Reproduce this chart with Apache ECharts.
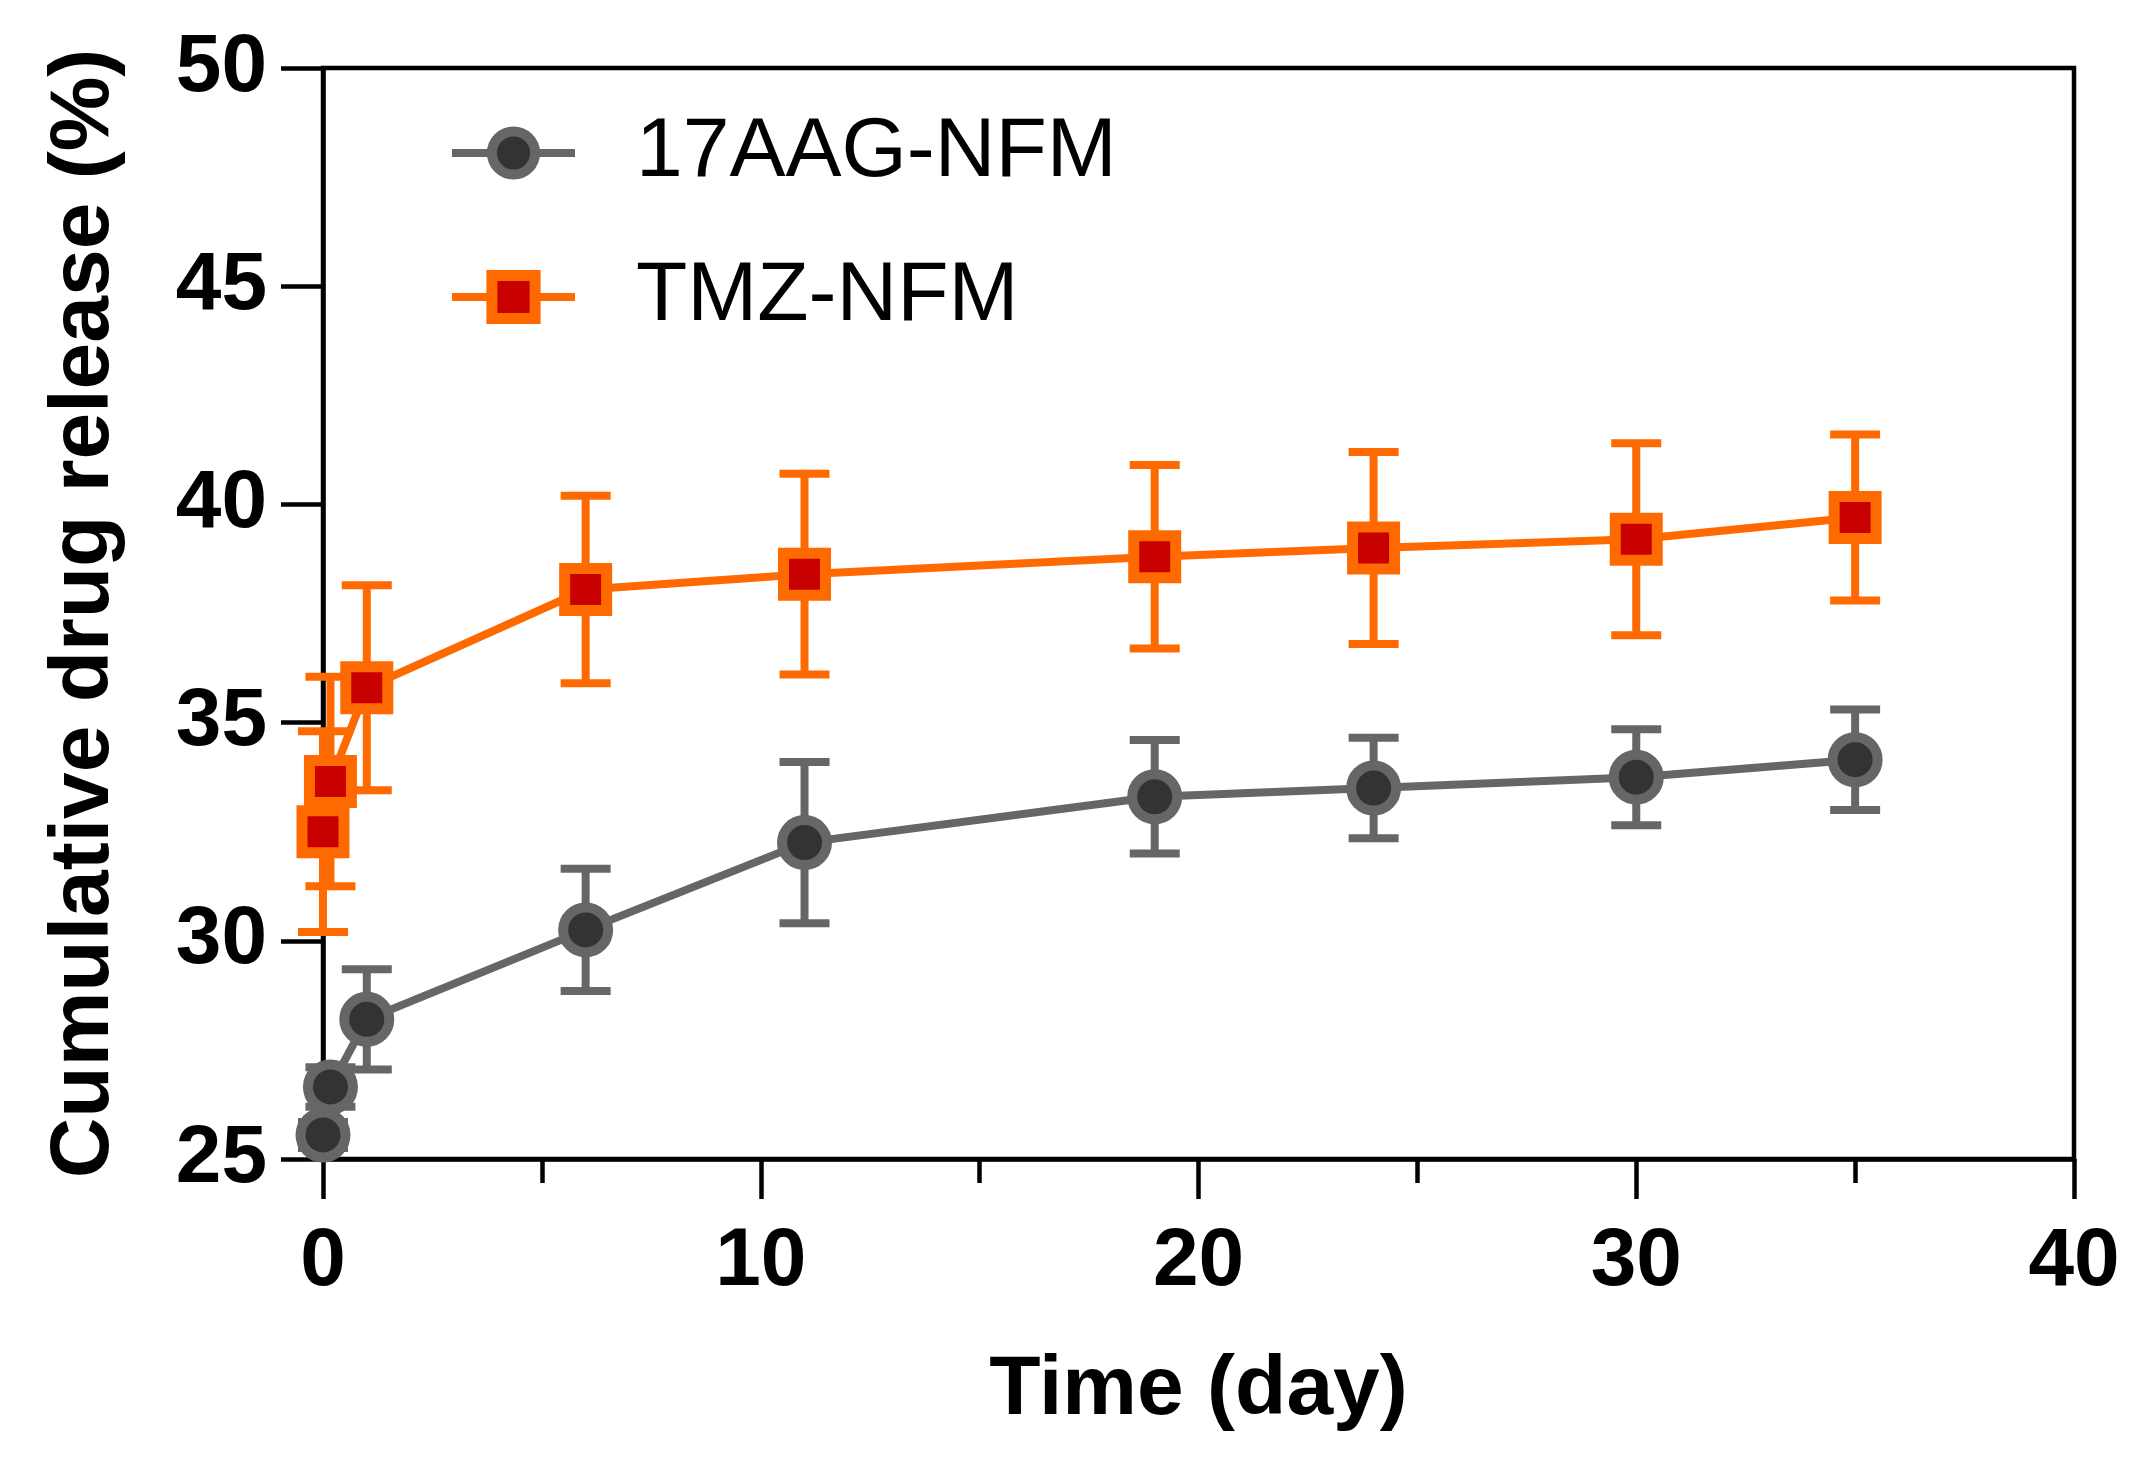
<!DOCTYPE html>
<html>
<head>
<meta charset="utf-8">
<script src="https://cdn.jsdelivr.net/npm/echarts@6/dist/echarts.min.js"></script>
<style>
  html, body { margin: 0; padding: 0; background: #fff; }
  #main { width: 2138px; height: 1473px; }
</style>
</head>
<body>
<div id="main"></div>
<script>
// release time points (day)
var days = [0, 0.17, 1, 6, 11, 19, 24, 30, 35];
// 17AAG-NFM mean and SD
var aagMean = [25.55, 26.65, 28.2, 30.25, 32.25, 33.3, 33.5, 33.75, 34.15];
var aagSd = [0.3, 0.45, 1.15, 1.4, 1.85, 1.3, 1.15, 1.1, 1.15];
// TMZ-NFM mean and SD
var tmzMean = [32.5, 33.65, 35.8, 38.05, 38.4, 38.8, 39.0, 39.2, 39.7];
var tmzSd = [2.3, 2.4, 2.35, 2.15, 2.3, 2.1, 2.2, 2.2, 1.9];

var FONT = '"Liberation Sans", Arial, sans-serif';
var GRAY = '#666666', ORANGE = '#ff6a00';

var myChart = echarts.init(document.getElementById('main'));

function pairs(mean) {
    return days.map(function (d, i) { return [d, mean[i]]; });
}
function errRows(mean, sd) {
    return days.map(function (d, i) { return [d, mean[i] - sd[i], mean[i] + sd[i]]; });
}
// error bar: vertical stem + two caps
function errorBar(color) {
    return function (params, api) {
        var lo = api.coord([api.value(0), api.value(1)]);
        var hi = api.coord([api.value(0), api.value(2)]);
        var hw = 25;
        var st = { stroke: color, lineWidth: 8 };
        return {
            type: 'group',
            children: [
                { type: 'line', shape: { x1: lo[0], y1: lo[1], x2: hi[0], y2: hi[1] }, style: st },
                { type: 'line', shape: { x1: lo[0] - hw, y1: lo[1], x2: lo[0] + hw, y2: lo[1] }, style: st },
                { type: 'line', shape: { x1: hi[0] - hw, y1: hi[1], x2: hi[0] + hw, y2: hi[1] }, style: st }
            ]
        };
    };
}

var aagStyle = { color: '#333333', borderColor: GRAY, borderWidth: 10 };
var tmzStyle = { color: '#c80000', borderColor: ORANGE, borderWidth: 11 };

option = {
    backgroundColor: '#fff',
    animation: false,
    grid: {
        left: 323,
        right: 64,
        top: 68,
        bottom: 314,
        show: true,
        borderColor: '#000',
        borderWidth: 4.5
    },
    legend: {
        orient: 'vertical',
        left: 443,
        top: 106,
        itemWidth: 123,
        itemHeight: 54,
        itemGap: 60,
        textStyle: {
            fontFamily: FONT,
            fontSize: 84,
            lineHeight: 84,
            color: '#000',
            padding: [0, 0, 0, 56]
        },
        data: [
            { name: '17AAG-NFM', itemStyle: aagStyle, lineStyle: { color: GRAY, width: 8 } },
            { name: 'TMZ-NFM', itemStyle: tmzStyle, lineStyle: { color: ORANGE, width: 8 } }
        ]
    },
    xAxis: {
        type: 'value',
        min: 0,
        max: 40,
        interval: 10,
        name: 'Time (day)',
        nameLocation: 'middle',
        nameGap: 190,
        nameTextStyle: { fontFamily: FONT, fontSize: 84, fontWeight: 'bold', color: '#000' },
        axisLine: { lineStyle: { color: '#000', width: 4.5 } },
        axisTick: { length: 40, lineStyle: { color: '#000', width: 4.5 } },
        minorTick: { show: true, splitNumber: 2, length: 24, lineStyle: { color: '#000', width: 4.5 } },
        axisLabel: { fontFamily: FONT, fontSize: 82, fontWeight: 'bold', color: '#000', margin: 62 },
        splitLine: { show: false }
    },
    yAxis: {
        type: 'value',
        min: 25,
        max: 50,
        interval: 5,
        name: 'Cumulative drug release (%)',
        nameLocation: 'middle',
        nameGap: 196,
        nameTextStyle: { fontFamily: FONT, fontSize: 84, fontWeight: 'bold', color: '#000' },
        axisLine: { lineStyle: { color: '#000', width: 4.5 } },
        axisTick: { length: 42, lineStyle: { color: '#000', width: 4.5 } },
        axisLabel: { fontFamily: FONT, fontSize: 82, fontWeight: 'bold', color: '#000', margin: 56 },
        splitLine: { show: false }
    },
    series: [
        {
            name: 'aag-err',
            type: 'custom',
            renderItem: errorBar(GRAY),
            encode: { x: 0, y: [1, 2] },
            data: errRows(aagMean, aagSd),
            z: 1
        },
        {
            name: 'tmz-err',
            type: 'custom',
            renderItem: errorBar(ORANGE),
            encode: { x: 0, y: [1, 2] },
            data: errRows(tmzMean, tmzSd),
            z: 1
        },
        {
            name: '17AAG-NFM',
            type: 'line',
            data: pairs(aagMean),
            symbol: 'circle',
            symbolSize: 45,
            lineStyle: { color: GRAY, width: 8 },
            itemStyle: aagStyle,
            z: 2
        },
        {
            name: 'TMZ-NFM',
            type: 'line',
            data: pairs(tmzMean),
            symbol: 'rect',
            symbolSize: 42,
            lineStyle: { color: ORANGE, width: 8 },
            itemStyle: tmzStyle,
            z: 2
        }
    ]
};
myChart.setOption(option);
</script>
</body>
</html>
